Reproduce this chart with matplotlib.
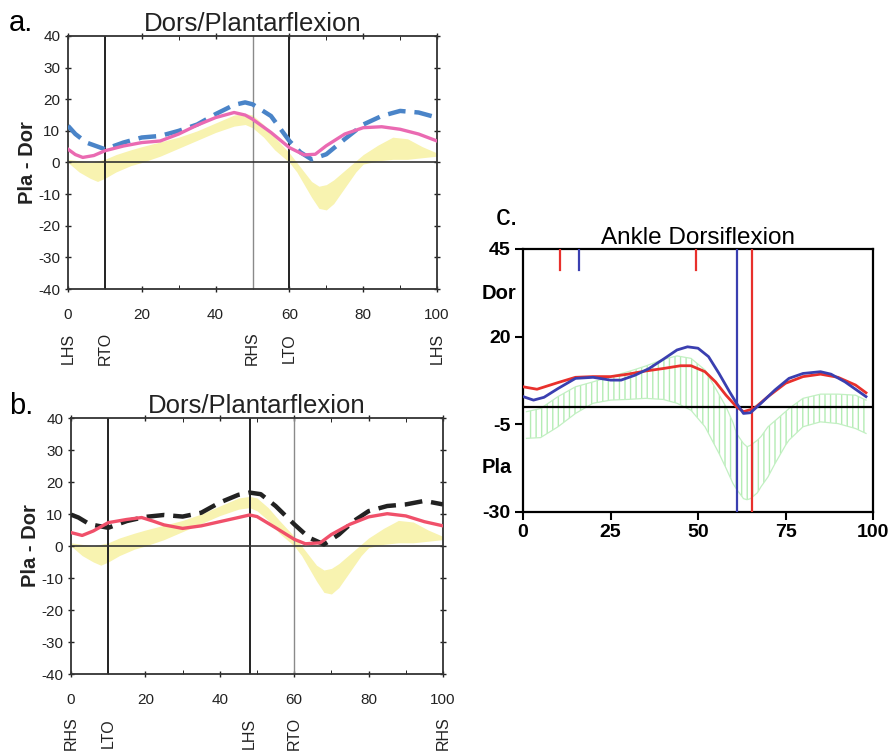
import matplotlib
matplotlib.use("Agg")
import matplotlib.pyplot as plt
from matplotlib.transforms import blended_transform_factory

plt.rcParams['font.family'] = ['Liberation Sans', 'DejaVu Sans']
plt.rcParams['axes.unicode_minus'] = False
plt.rcParams['hatch.linewidth'] = 1.0

# ---- panel a: percentage of gait cycle vs angle (deg)
a_pink_x = [0, 2, 4, 7, 10, 15, 20, 25, 30, 35, 40, 45, 48, 50, 55, 60, 64, 67, 70, 75, 80, 85, 90, 95, 100]
a_pink_y = [4.2, 2.5, 1.6, 2.2, 3.7, 5.2, 6.3, 6.8, 9.0, 11.8, 14.2, 15.8, 15.0, 13.7, 9.5, 4.7, 2.4, 2.6, 5.3, 9.0, 11.0, 11.3, 10.5, 9.0, 6.8]
a_blue_x = [0, 2, 5, 10, 15, 20, 25, 30, 35, 40, 45, 48, 50, 55, 60, 63, 66, 70, 75, 80, 85, 90, 95, 100]
a_blue_y = [11.6, 9.0, 6.3, 4.2, 6.3, 7.9, 8.4, 10.0, 12.0, 15.3, 18.2, 19.0, 18.4, 14.7, 6.8, 3.2, 1.0, 2.6, 7.4, 12.0, 14.7, 16.3, 15.8, 14.2]
a_events_x = [0, 10, 50, 60, 100]
a_events = ['LHS', 'RTO', 'RHS', 'LTO', 'LHS']

# ---- panel b
b_red_x = [0, 3, 6, 10, 15, 19, 22, 25, 30, 35, 40, 45, 48, 50, 55, 60, 63, 67, 70, 75, 80, 85, 90, 95, 100]
b_red_y = [4.2, 3.3, 4.7, 7.3, 8.3, 8.9, 7.8, 6.6, 5.5, 6.3, 7.6, 8.9, 9.7, 9.2, 5.7, 2.1, 0.7, 1.0, 3.6, 6.8, 9.1, 10.1, 9.4, 7.6, 6.3]
b_black_x = [0, 2, 5, 10, 15, 20, 25, 30, 35, 40, 45, 48, 51, 55, 60, 64, 68, 72, 76, 80, 85, 90, 95, 100]
b_black_y = [9.8, 8.9, 6.8, 5.7, 7.8, 9.1, 9.7, 9.2, 10.4, 13.6, 16.0, 16.7, 16.2, 12.5, 6.8, 2.6, 0.5, 3.6, 7.8, 10.9, 12.5, 13.0, 14.1, 13.0]
b_events_x = [0, 10, 48, 60, 100]
b_events = ['RHS', 'LTO', 'LHS', 'RTO', 'RHS']

# normal band (a and b)
norm_x = [0, 3, 6, 8, 10, 13, 17, 20, 25, 30, 35, 40, 45, 48, 50, 53, 56, 60, 62, 64, 66, 68, 70, 72, 75, 78, 80, 84, 88, 92, 96, 100]
norm_hi = [1, 0.5, 0, 0.5, 1, 2.5, 4, 5, 6.5, 8, 10, 12.5, 15, 15.5, 15, 12, 8, 3, 0, -3, -6, -7.5, -7, -5.5, -2.5, 0.5, 2.5, 5.5, 8, 7.5, 5, 3]
norm_lo = [0, -3, -5, -6, -5, -3, -1, 0, 2, 4.5, 7, 9.5, 11.5, 12, 11, 8, 4, 0, -3, -7, -11, -14.5, -15, -13, -8, -3, -0.5, 0.5, 1, 1, 1.5, 2]

# ---- panel c
c_red_x = [0, 4, 10, 15, 20, 25, 30, 35, 40, 45, 48, 52, 55, 58, 61, 63, 66, 70, 75, 80, 85, 90, 95, 98]
c_red_y = [5.7, 5.0, 6.9, 8.4, 8.6, 8.6, 9.3, 10.2, 10.9, 11.7, 11.7, 10.0, 7.1, 3.3, 0.0, -1.4, -0.5, 2.9, 6.7, 8.6, 9.3, 8.4, 6.2, 4.0]
c_blue_x = [0, 3, 6, 10, 15, 20, 25, 28, 32, 36, 40, 44, 47, 50, 53, 56, 59, 61, 63, 65, 68, 72, 76, 80, 85, 88, 92, 98]
c_blue_y = [2.9, 1.9, 2.7, 5.2, 8.1, 8.4, 7.6, 7.6, 9.0, 10.9, 13.5, 16.2, 17.1, 16.7, 14.3, 9.5, 4.3, 1.0, -1.9, -1.7, 1.0, 4.8, 8.1, 9.5, 10.0, 9.3, 7.1, 2.9]
c_band_x = [1, 5, 10, 15, 20, 25, 30, 35, 40, 44, 48, 52, 56, 58, 60, 61, 63, 64, 65, 67, 68, 70, 72, 75, 76, 80, 85, 90, 95, 98]
c_band_hi = [-1.4, -0.5, 2.9, 5.7, 7.1, 8.6, 10.0, 11.6, 13.5, 14.5, 13.8, 10.5, 3.5, 0.0, -4.5, -7.6, -10.5, -11.4, -11.0, -9.5, -8.5, -5.7, -4.0, -1.4, -0.5, 2.4, 3.6, 3.6, 3.3, 1.9]
c_band_lo = [-9.0, -8.8, -5.7, -1.9, 1.0, 1.9, 2.1, 2.4, 2.1, 1.0, -1.0, -5.7, -13.3, -17.5, -21.9, -23.5, -26.2, -26.5, -26.2, -24.5, -22.8, -20.0, -16.2, -11.0, -9.5, -5.7, -4.3, -4.8, -6.2, -7.6]
c_full_events = [61.2, 65.5]
c_full_colors = ['#3a3fb0', '#e8302c']
c_short_events = [10.5, 16.0, 49.3]
c_short_colors = ['#e8302c', '#3a3fb0', '#e8302c']

fig = plt.figure(figsize=(8.91, 7.54), dpi=100)


def gait_panel(ax, title, line1, line2, events_x, events, ev_y, dark_lines, grey_lines):
    ax.fill_between(norm_x, norm_lo, norm_hi, color='#f8f3b0', lw=0, zorder=1)
    for x in dark_lines:
        ax.axvline(x, color='#222222', lw=1.4, zorder=2)
    for x in grey_lines:
        ax.axvline(x, color='#8a8a8a', lw=1.0, zorder=2)
    ax.axhline(0, color='#333333', lw=1.2, zorder=2)
    x1, y1, c1, lw1 = line1
    x2, y2, c2, lw2 = line2
    ax.plot(x1, y1, color=c1, ls='--', lw=lw1, zorder=3, dashes=(4, 2))
    ax.plot(x2, y2, color=c2, ls='-', lw=lw2, zorder=4)
    ax.set_xlim(0, 100)
    ax.set_ylim(-40, 40)
    ax.set_xticks(range(0, 101, 20))
    ax.set_xticks(range(0, 101, 10), minor=True)
    ax.set_yticks(range(-40, 41, 10))
    ax.tick_params(axis='both', direction='inout', length=5, width=1, labelsize=11,
                   colors='#222222', top=True, right=True)
    ax.tick_params(axis='x', pad=11)
    ax.tick_params(axis='y', pad=3)
    ax.tick_params(which='minor', direction='in', length=3, top=True)
    for s in ax.spines.values():
        s.set_color('#333333')
        s.set_linewidth(1.3)
    ax.set_ylabel('Pla - Dor', fontsize=14.5, fontweight='bold', labelpad=1, color='#222222')
    ax.set_title(title, fontsize=18.5, pad=3, color='#222222')
    tr = blended_transform_factory(ax.transData, ax.transAxes)
    for x, lab in zip(events_x, events):
        ax.text(x, ev_y, lab, rotation=90, ha='center', va='center', fontsize=11.5,
                transform=tr, color='#222222')


ax_a = fig.add_axes([0.0763, 0.6167, 0.4142, 0.3356])
gait_panel(ax_a, 'Dors/Plantarflexion',
           (a_blue_x, a_blue_y, '#4a84c8', 3.2),
           (a_pink_x, a_pink_y, '#ea6ab2', 2.4),
           a_events_x, a_events, -0.233, [10, 60], [50])

ax_b = fig.add_axes([0.0797, 0.1061, 0.4175, 0.3395])
gait_panel(ax_b, 'Dors/Plantarflexion',
           (b_black_x, b_black_y, '#222222', 3.2),
           (b_red_x, b_red_y, '#f0506a', 2.4),
           b_events_x, b_events, -0.232, [10, 48], [60])

fig.text(0.010, 0.970, 'a.', fontsize=21, ha='left', va='center')
fig.text(0.010, 0.462, 'b.', fontsize=21, ha='left', va='center')

# ---- panel c
ax_c = fig.add_axes([0.587, 0.3210, 0.3928, 0.3488])
ax_c.fill_between(c_band_x, c_band_lo, c_band_hi, facecolor='none', edgecolor='#b4ecb4',
                  hatch='|||', lw=0, zorder=1)
ax_c.plot(c_band_x, c_band_hi, color='#c2f0c2', lw=0.9, zorder=1)
ax_c.plot(c_band_x, c_band_lo, color='#c2f0c2', lw=0.9, zorder=1)
ax_c.axhline(0, color='black', lw=1.6, zorder=2)
for x, c in zip(c_full_events, c_full_colors):
    ax_c.axvline(x, color=c, lw=1.6, zorder=3)
for x, c in zip(c_short_events, c_short_colors):
    ax_c.plot([x, x], [45, 39], color=c, lw=1.6, zorder=3)
ax_c.plot(c_red_x, c_red_y, color='#e8302c', lw=2.0, zorder=4)
ax_c.plot(c_blue_x, c_blue_y, color='#3a3fb0', lw=2.0, zorder=5)
ax_c.set_xlim(0, 100)
ax_c.set_ylim(-30, 45)
ax_c.set_xticks([0, 25, 50, 75, 100])
ax_c.set_yticks([45, 20, -5, -30])
ax_c.tick_params(direction='out', length=6, width=1.5, labelsize=14, pad=3)
for lab in ax_c.get_xticklabels() + ax_c.get_yticklabels():
    lab.set_fontweight('bold')
for s in ax_c.spines.values():
    s.set_linewidth(1.6)
ytr = blended_transform_factory(ax_c.transAxes, ax_c.transData)
ax_c.text(-0.068, 32.3, 'Dor', fontsize=14.5, fontweight='bold', ha='center', va='center',
          transform=ytr)
ax_c.text(-0.075, -17.3, 'Pla', fontsize=14.5, fontweight='bold', ha='center', va='center',
          transform=ytr)
ax_c.set_title('Ankle Dorsiflexion', fontsize=17.5, pad=3)
fig.text(0.556, 0.712, 'c.', fontsize=21, ha='left', va='center')

fig.savefig('out.png', dpi=100)
